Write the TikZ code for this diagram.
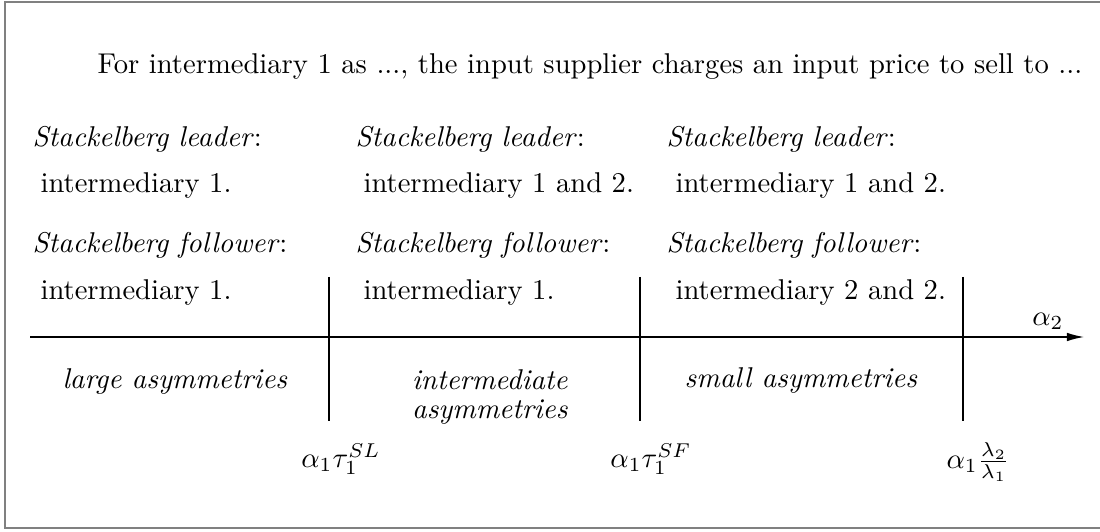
\documentclass[tikz,border=0pt]{standalone}
\usetikzlibrary{arrows.meta}
\begin{document}
\begin{tikzpicture}[x=0.3495pt,y=-0.3495pt,
  txt/.style={inner sep=0pt, anchor=base west},
  ctxt/.style={inner sep=0pt, anchor=base},
  mlab/.style={inner sep=0pt, anchor=center},
  sep/.style={line width=0.45pt},
  frame/.style={draw=gray, line width=0.8pt}]
\useasboundingbox (0,0) rectangle (1100,532);
\draw[frame] (1101,2) -- (5,2) -- (5,528) -- (1101,528);

\node[txt] (title) at (97,74) {For intermediary 1 as ..., the input supplier charges an input price to sell to ...};

% column 1
\node[txt] (l1) at (32,147) {\textit{Stackelberg leader}:};
\node[txt] (l1v) at (40,193) {intermediary 1.};
\node[txt] (f1) at (32,253) {\textit{Stackelberg follower}:};
\node[txt] (f1v) at (40,300) {intermediary 1.};
% column 2
\node[txt] (l2) at (355,147) {\textit{Stackelberg leader}:};
\node[txt] (l2v) at (363,193) {intermediary 1 and 2.};
\node[txt] (f2) at (355,253) {\textit{Stackelberg follower}:};
\node[txt] (f2v) at (363,300) {intermediary 1.};
% column 3
\node[txt] (l3) at (666,147) {\textit{Stackelberg leader}:};
\node[txt] (l3v) at (675,193) {intermediary 1 and 2.};
\node[txt] (f3) at (666,253) {\textit{Stackelberg follower}:};
\node[txt] (f3v) at (675,300) {intermediary 2 and 2.};

% axis
\coordinate (axs) at (30,337);
\coordinate (axe) at (1084,337);
\draw[sep,-{Latex[length=6pt,width=3pt]}] (axs) -- (axe);
\node[mlab] (a2) at (1048,321) {$\alpha_2$};

% separators
\coordinate (t1) at (329,277); \coordinate (b1) at (329,421);
\coordinate (t2) at (640,277); \coordinate (b2) at (640,421);
\coordinate (t3) at (963,277); \coordinate (b3) at (963,421);
\draw[sep] (t1) -- (b1);
\draw[sep] (t2) -- (b2);
\draw[sep] (t3) -- (b3);

% regions
\node[ctxt] (large) at (175,389) {\textit{large asymmetries}};
\node[ctxt] (inter1) at (490,390) {\textit{intermediate}};
\node[ctxt] (inter2) at (490,419) {\textit{asymmetries}};
\node[ctxt] (small) at (801,388) {\textit{small asymmetries}};

% thresholds
\node[mlab] (sl) at (341,459) {$\alpha_1\tau_1^{SL}$};
\node[mlab] (sf) at (651,459) {$\alpha_1\tau_1^{SF}$};
\node[mlab] (lam) at (978,462) {$\alpha_1\frac{\lambda_2}{\lambda_1}$};
\end{tikzpicture}
\end{document}
